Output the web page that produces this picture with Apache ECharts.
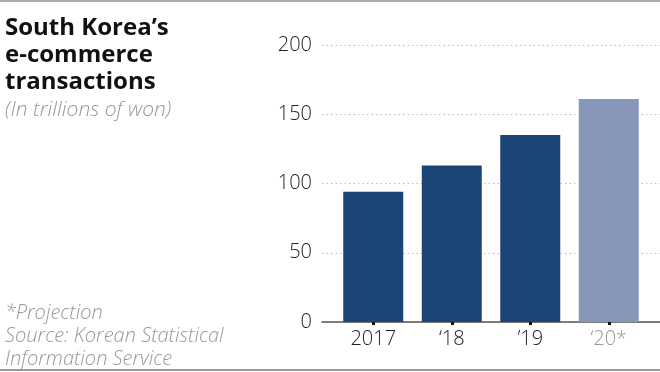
<!DOCTYPE html>
<html>
<head>
<meta charset="utf-8">
<script src="https://cdn.jsdelivr.net/npm/echarts@6/dist/echarts.min.js"></script>
<style>
html,body{margin:0;padding:0;background:#fff;}
#c{width:660px;height:372px;}
</style>
</head>
<body>
<div id="c"></div>
<script>
var categories = ['2017', '\u201818', '\u201919', '\u201820*'];
var values = [94, 113, 135, 161];
var projected = [false, false, false, true];
var yTicks = [0, 50, 100, 150, 200];

var DARK = '#1a4576';
var LIGHT = '#8896b9';
var FONT = '"Open Sans", Lato, sans-serif';

var chart = echarts.init(document.getElementById('c'));
chart.setOption({
  backgroundColor: '#fff',
  animation: false,
  title: [
    {
      text: 'South Korea\u2019s\ne-commerce\ntransactions',
      left: 0, top: 10,
      textStyle: {fontFamily: FONT, fontSize: 24, fontWeight: 'bold', color: '#111', lineHeight: 27}
    },
    {
      text: '(In trillions of won)',
      left: 0, top: 95,
      textStyle: {fontFamily: FONT, fontSize: 21, fontStyle: 'italic', fontWeight: 300, color: '#999'}
    },
    {
      text: '*Projection\nSource: Korean Statistical\nInformation Service',
      left: 0, top: 297,
      textStyle: {fontFamily: FONT, fontSize: 20, fontStyle: 'italic', fontWeight: 300, color: '#999', lineHeight: 23}
    }
  ],
  graphic: [
    {type: 'rect', left: 0, top: 0, shape: {width: 660, height: 2}, style: {fill: '#aaa'}},
    {type: 'rect', left: 0, top: 369, shape: {width: 660, height: 2}, style: {fill: '#999'}}
  ],
  grid: [
    {left: 322, right: 0, top: 45, bottom: 50},
    {left: 334, right: 12, top: 45, bottom: 50}
  ],
  xAxis: [
    {
      gridIndex: 0, type: 'value', min: 0, max: 1,
      axisLine: {show: true, onZero: false, lineStyle: {color: '#555', width: 1.5}},
      axisTick: {show: false}, axisLabel: {show: false}, splitLine: {show: false}
    },
    {
      gridIndex: 1, type: 'category', data: categories,
      axisLine: {show: false},
      axisTick: {show: true, alignWithLabel: true, length: 3, lineStyle: {color: '#111', width: 3}},
      axisLabel: {
        margin: 7, fontFamily: FONT, fontSize: 20, fontWeight: 300,
        color: function (v, i) { return projected[i] ? '#999' : '#222'; }
      }
    }
  ],
  yAxis: [
    {
      gridIndex: 0, type: 'value', min: yTicks[0], max: yTicks[yTicks.length - 1], interval: 50,
      axisLine: {show: false}, axisTick: {show: false},
      axisLabel: {margin: 10, fontFamily: FONT, fontSize: 20, fontWeight: 300, color: '#222'},
      splitLine: {show: true, lineStyle: {type: [1.5, 3], color: '#bbb', width: 1}}
    },
    {
      gridIndex: 1, type: 'value', min: yTicks[0], max: yTicks[yTicks.length - 1], interval: 50,
      show: false, splitLine: {show: false}
    }
  ],
  series: [
    {
      type: 'bar', xAxisIndex: 1, yAxisIndex: 1,
      barWidth: 60,
      data: values.map(function (v, i) {
        return {value: v, itemStyle: {color: projected[i] ? LIGHT : DARK}};
      })
    }
  ]
});
</script>
</body>
</html>
